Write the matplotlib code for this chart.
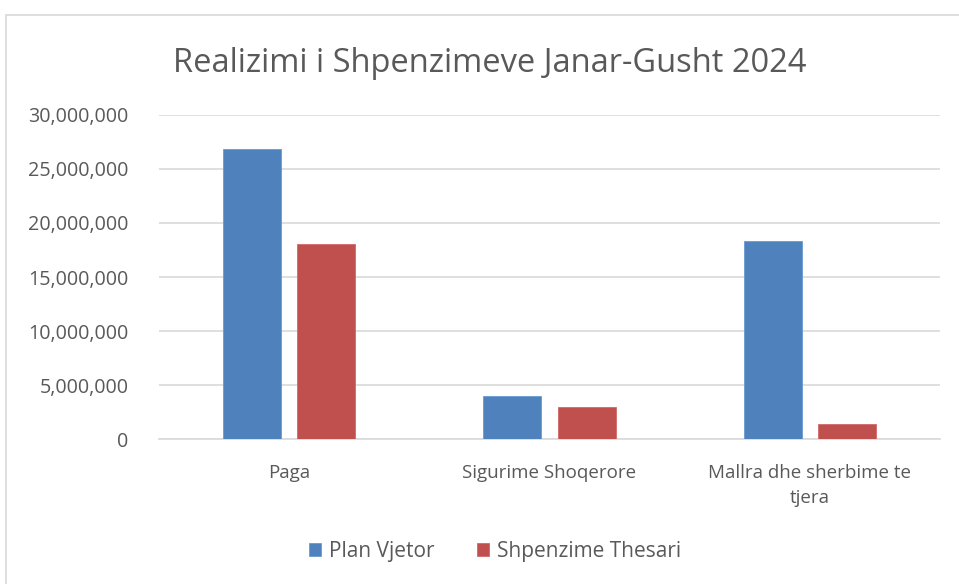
import matplotlib
matplotlib.use("Agg")
import matplotlib.pyplot as plt
from matplotlib.ticker import FuncFormatter, MultipleLocator
from matplotlib.patches import Rectangle
import numpy as np

categories = ["Paga", "Sigurime Shoqerore", "Mallra dhe sherbime te\ntjera"]
plan_vjetor = [26800000, 4030000, 18340000]
shpenzime_thesari = [18060000, 2950000, 1440000]
series_names = ["Plan Vjetor", "Shpenzime Thesari"]
title = "Realizimi i Shpenzimeve Janar-Gusht 2024"

blue = "#4F81BD"
red = "#C0504D"
text_col = "#595959"
font = ["Open Sans", "DejaVu Sans"]

W, H = 959, 584
fig = plt.figure(figsize=(W / 100, H / 100), dpi=100)
fig.patch.set_facecolor("white")
# outer chart border
fig.add_artist(Rectangle((6 / W, -0.01), 1.2, 1 - 15 / H + 0.01, transform=fig.transFigure,
                         fill=False, edgecolor="#D9D9D9", linewidth=1.2))

ax = fig.add_axes([159 / W, 1 - 439.3 / H, (940 - 159) / W, (439.3 - 114.7) / H])
x = np.arange(len(categories))
bw = 0.223
off = 0.143
ax.bar(x - off, plan_vjetor, bw, color=blue, edgecolor="#6A9AD0", linewidth=0.6, label=series_names[0], zorder=3)
ax.bar(x + off, shpenzime_thesari, bw, color=red, edgecolor="#D06A67", linewidth=0.6, label=series_names[1], zorder=3)

ax.set_xlim(-0.5, 2.5)
ax.set_ylim(0, 30000000)
ax.yaxis.set_major_locator(MultipleLocator(5000000))
ax.yaxis.set_major_formatter(FuncFormatter(lambda v, p: f"{int(v):,}"))
ax.grid(axis="y", color="#D9D9D9", linewidth=1.2, zorder=0)
for s in ["top", "right", "left"]:
    ax.spines[s].set_visible(False)
ax.spines["bottom"].set_color("#D9D9D9")
ax.spines["bottom"].set_linewidth(1.2)
ax.tick_params(axis="both", length=0, colors=text_col)
ax.tick_params(axis="y", pad=22, labelsize=14.2)
ax.tick_params(axis="x", pad=18, labelsize=13.5)
ax.set_xticks(x)
ax.set_xticklabels(categories, fontfamily=font, linespacing=1.45)
for lab in ax.get_yticklabels():
    lab.set_fontfamily(font)

fig.text(489.5 / W, 1 - 63 / H, title, ha="center", va="center", fontsize=23.5, color=text_col, fontfamily=font)

leg = fig.legend(loc="center", bbox_to_anchor=(495 / W, 1 - 551 / H), ncol=2, frameon=False,
                 handlelength=0.6, handleheight=0.6, handletextpad=0.4, columnspacing=2.0,
                 prop={"family": font, "size": 15})
for t in leg.get_texts():
    t.set_color(text_col)

fig.savefig("out.png", dpi=100, facecolor="white")
